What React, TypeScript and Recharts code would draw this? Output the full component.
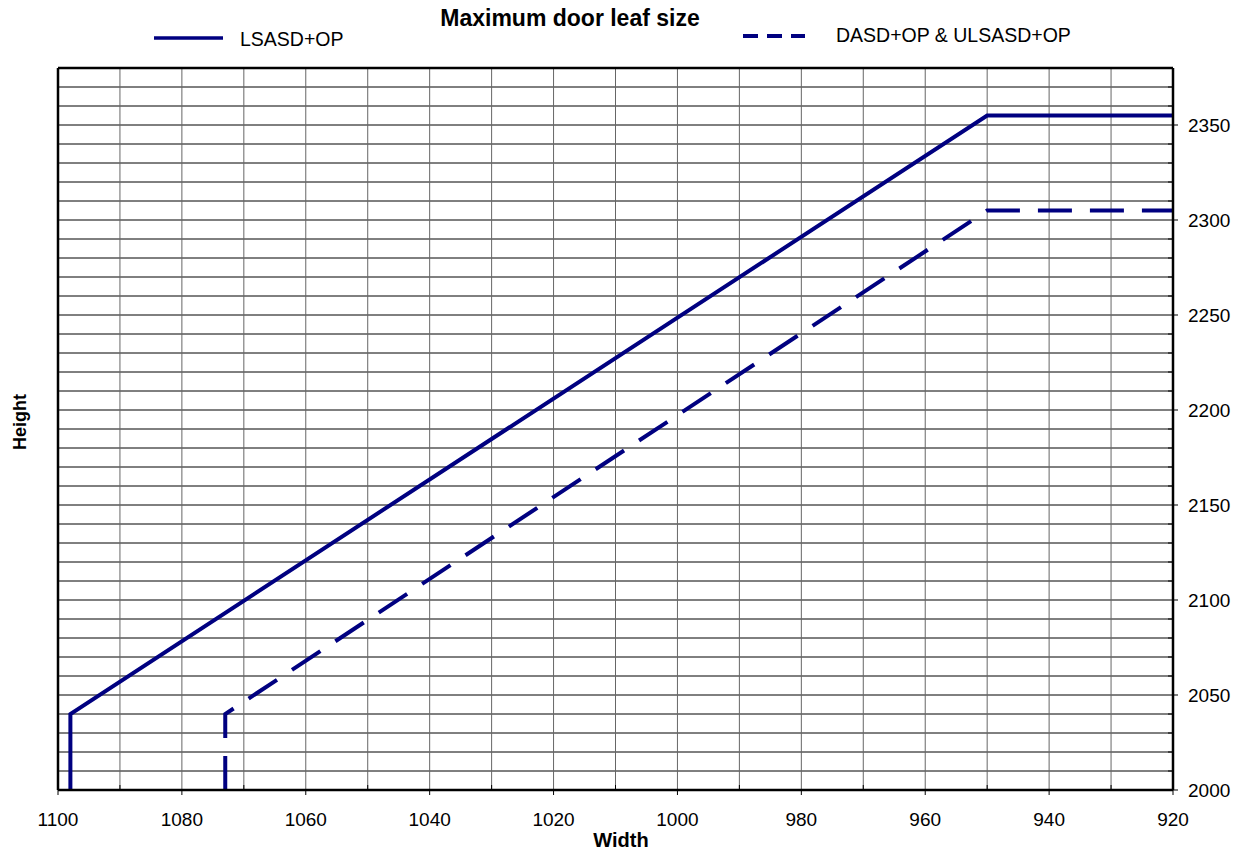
import { LineChart, Line, XAxis, YAxis, CartesianGrid, ReferenceLine } from 'recharts';

const solidWidth = [1098, 1098, 950, 920];
const solidHeight = [2000, 2040, 2355, 2355];
const dashedWidth = [1073, 1073, 950, 920];
const dashedHeight = [2000, 2040, 2305, 2305];

const xTicks = [1100, 1090, 1080, 1070, 1060, 1050, 1040, 1030, 1020, 1010, 1000, 990, 980, 970, 960, 950, 940, 930, 920];
const yTicks = [
  2000, 2010, 2020, 2030, 2040, 2050, 2060, 2070, 2080, 2090, 2100, 2110, 2120, 2130, 2140, 2150, 2160, 2170, 2180, 2190,
  2200, 2210, 2220, 2230, 2240, 2250, 2260, 2270, 2280, 2290, 2300, 2310, 2320, 2330, 2340, 2350, 2360, 2370, 2380,
];

const solidData = solidWidth.map((w, i) => ({ w, h: solidHeight[i] }));
const dashedData = dashedWidth.map((w, i) => ({ w, h: dashedHeight[i] }));

const FONT = '"Liberation Sans", Arial, sans-serif';
const NAVY = '#000080';

function XTick(props: any) {
  const { x, y, payload } = props;
  const v = payload.value;
  const major = v % 20 === 0;
  const axisY = y - 22;
  return (
    <g>
      <line x1={x} x2={x} y1={axisY} y2={major ? axisY + 5 : axisY - 5} stroke="#000" strokeWidth={1} />
      {major && (
        <text x={x} y={axisY + 36} textAnchor="middle" fontSize={19} fontFamily={FONT} fill="#000">
          {v}
        </text>
      )}
    </g>
  );
}

function YTick(props: any) {
  const { x, y, payload } = props;
  const v = payload.value;
  const major = v % 50 === 0;
  const axisX = x - 15;
  return (
    <g>
      <line x1={major ? axisX + 5 : axisX - 5} x2={axisX} y1={y} y2={y} stroke="#000" strokeWidth={1} />
      {major && (
        <text x={axisX + 15} y={y} dy="0.36em" textAnchor="start" fontSize={19} fontFamily={FONT} fill="#000">
          {v}
        </text>
      )}
    </g>
  );
}

export default function App() {
  return (
    <div style={{ position: 'absolute', left: 0, top: 0, width: 1245, height: 854, background: '#fff' }}>
      <LineChart width={1245} height={854} margin={{ top: 68, right: 12, bottom: 34, left: 58 }}>
        <CartesianGrid vertical={false} stroke="#000" strokeWidth={1} />
        <CartesianGrid horizontal={false} stroke="#666" strokeWidth={1} />
        <XAxis
          type="number"
          dataKey="w"
          domain={[920, 1100]}
          reversed
          ticks={xTicks}
          interval={0}
          height={30}
          tickSize={5}
          tickMargin={17}
          tickLine={false}
          tick={<XTick />}
          axisLine={{ stroke: '#000', strokeWidth: 2.5 }}
        />
        <YAxis
          type="number"
          orientation="right"
          domain={[2000, 2380]}
          ticks={yTicks}
          interval={0}
          width={60}
          tickSize={5}
          tickMargin={10}
          tickLine={false}
          tick={<YTick />}
          axisLine={{ stroke: '#000', strokeWidth: 2.5 }}
        />
        <ReferenceLine x={1100} stroke="#000" strokeWidth={2.5} />
        <ReferenceLine y={2380} stroke="#000" strokeWidth={2.5} />
        <Line
          data={solidData}
          dataKey="h"
          type="linear"
          stroke={NAVY}
          strokeWidth={4}
          dot={false}
          activeDot={false}
          isAnimationActive={false}
        />
        <Line
          data={dashedData}
          dataKey="h"
          type="linear"
          stroke={NAVY}
          strokeWidth={4}
          strokeDasharray="34 18"
          dot={false}
          activeDot={false}
          isAnimationActive={false}
        />
      </LineChart>
      <svg width={1245} height={854} style={{ position: 'absolute', left: 0, top: 0, pointerEvents: 'none' }}>
        <text x={570} y={26} textAnchor="middle" fontSize={23} fontWeight="bold" fontFamily={FONT}>
          Maximum door leaf size
        </text>
        <line x1={154} x2={223} y1={38} y2={38} stroke={NAVY} strokeWidth={3.5} />
        <text x={240} y={46} fontSize={19.5} fontFamily={FONT}>
          LSASD+OP
        </text>
        <line x1={743} x2={805} y1={36} y2={36} stroke={NAVY} strokeWidth={4} strokeDasharray="15 9" />
        <text x={836} y={42} fontSize={19.5} fontFamily={FONT}>
          DASD+OP &amp; ULSASD+OP
        </text>
        <text x={621} y={847} textAnchor="middle" fontSize={20} fontWeight="bold" fontFamily={FONT}>
          Width
        </text>
        <text transform="translate(26,422) rotate(-90)" textAnchor="middle" fontSize={18} fontWeight="bold" fontFamily={FONT}>
          Height
        </text>
      </svg>
    </div>
  );
}
